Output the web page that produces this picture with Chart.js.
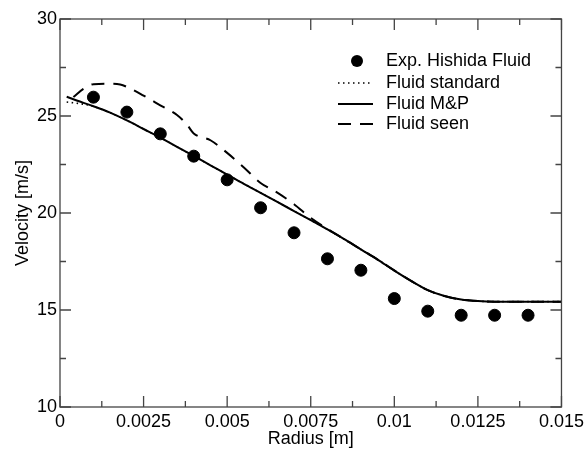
<!DOCTYPE html>
<html>
<head>
<meta charset="utf-8">
<script src="https://cdn.jsdelivr.net/npm/chart.js@4"></script>
<style>
  body { margin: 0; background: #fff; }
</style>
</head>
<body>
<canvas id="chart" width="588" height="450"></canvas>
<script>
// experimental points
var expX = [0.001, 0.002, 0.003, 0.004, 0.005, 0.006, 0.007, 0.008, 0.009, 0.010, 0.011, 0.012, 0.013, 0.014];
var expY = [25.97, 25.2, 24.08, 22.93, 21.71, 20.27, 18.98, 17.64, 17.05, 15.59, 14.94, 14.73, 14.73, 14.73];

// Fluid M&P
var mpX = [0.0002, 0.0005, 0.001, 0.0015, 0.002, 0.0025, 0.003, 0.0035, 0.004, 0.0045, 0.005, 0.0055, 0.006, 0.0065, 0.007, 0.0075, 0.008, 0.0085, 0.009, 0.0095, 0.010, 0.0105, 0.011, 0.0115, 0.012, 0.0125, 0.013, 0.015];
var mpY = [25.99, 25.8, 25.5, 25.17, 24.77, 24.33, 23.89, 23.41, 22.94, 22.46, 21.98, 21.5, 21.04, 20.57, 20.1, 19.63, 19.15, 18.65, 18.12, 17.6, 17.03, 16.5, 16.02, 15.72, 15.54, 15.46, 15.43, 15.43];

// Fluid standard (only differs close to the axis)
var stdX = [0.0002, 0.0005, 0.0008, 0.001, 0.0015, 0.002, 0.0025, 0.003, 0.0035, 0.004, 0.0045, 0.005, 0.0055, 0.006, 0.0065, 0.007, 0.0075, 0.008, 0.0085, 0.009, 0.0095, 0.010, 0.0105, 0.011, 0.0115, 0.012, 0.0125, 0.013, 0.015];
var stdY = [25.72, 25.66, 25.58, 25.5, 25.17, 24.77, 24.33, 23.89, 23.41, 22.94, 22.46, 21.98, 21.5, 21.04, 20.57, 20.1, 19.63, 19.15, 18.65, 18.12, 17.6, 17.03, 16.5, 16.02, 15.72, 15.54, 15.46, 15.43, 15.43];

// Fluid seen
var seenX = [0.0004, 0.0007, 0.001, 0.0015, 0.0018, 0.002, 0.0025, 0.003, 0.0035, 0.0038, 0.004, 0.0045, 0.005, 0.0055, 0.006, 0.0065, 0.007, 0.0075, 0.008, 0.0085, 0.009, 0.0095, 0.010, 0.0105, 0.011, 0.0115, 0.012, 0.0125, 0.013, 0.015];
var seenY = [25.98, 26.4, 26.64, 26.66, 26.62, 26.5, 26.05, 25.55, 25.05, 24.55, 24.1, 23.75, 23.1, 22.35, 21.55, 21.05, 20.45, 19.75, 19.18, 18.66, 18.13, 17.6, 17.04, 16.5, 16.02, 15.72, 15.54, 15.46, 15.43, 15.43];

var xTicks = [0, 0.0025, 0.005, 0.0075, 0.01, 0.0125, 0.015];
var xTickLabels = ['0', '0.0025', '0.005', '0.0075', '0.01', '0.0125', '0.015'];
var yTicks = [10, 15, 20, 25, 30];
var yTickLabels = ['10', '15', '20', '25', '30'];

var legendNames = ['Exp. Hishida Fluid', 'Fluid standard', 'Fluid M&P', 'Fluid seen'];

function pts(xs, ys) {
  return xs.map(function (x, i) { return {x: x, y: ys[i]}; });
}

var FONT = "'Liberation Sans', Arial, sans-serif";
var FRAME = '#444';

// inward ticks on all four sides + frame
var frameTicks = {
  id: 'frameTicks',
  afterDraw: function (chart) {
    var ctx = chart.ctx, a = chart.chartArea;
    var xs = chart.scales.x, ys = chart.scales.y;
    ctx.save();
    ctx.strokeStyle = FRAME;
    ctx.lineWidth = 1.3;
    ctx.strokeRect(a.left, a.top, a.right - a.left, a.bottom - a.top);
    ctx.beginPath();
    for (var i = 0; i < xTicks.length; i++) {
      var px = xs.getPixelForValue(xTicks[i]);
      ctx.moveTo(px, a.bottom); ctx.lineTo(px, a.bottom - 11);
      ctx.moveTo(px, a.top); ctx.lineTo(px, a.top + 11);
      if (i < xTicks.length - 1) {
        var mx = xs.getPixelForValue((xTicks[i] + xTicks[i + 1]) / 2);
        ctx.moveTo(mx, a.bottom); ctx.lineTo(mx, a.bottom - 6);
        ctx.moveTo(mx, a.top); ctx.lineTo(mx, a.top + 6);
      }
    }
    for (var j = 0; j < yTicks.length; j++) {
      var py = ys.getPixelForValue(yTicks[j]);
      ctx.moveTo(a.left, py); ctx.lineTo(a.left + 11, py);
      ctx.moveTo(a.right, py); ctx.lineTo(a.right - 11, py);
      if (j < yTicks.length - 1) {
        var my = ys.getPixelForValue((yTicks[j] + yTicks[j + 1]) / 2);
        ctx.moveTo(a.left, my); ctx.lineTo(a.left + 6, my);
        ctx.moveTo(a.right, my); ctx.lineTo(a.right - 6, my);
      }
    }
    ctx.stroke();

    // legend, top right inside the plot
    var lx = 338, tx = 386, ly = [61, 83, 104, 124];
    ctx.fillStyle = '#000';
    ctx.strokeStyle = '#000';
    ctx.beginPath();
    ctx.arc(357, ly[0], 6, 0, Math.PI * 2);
    ctx.fill();
    var dashes = [[1.5, 3.5], [], [13, 9]];
    for (var k = 0; k < 3; k++) {
      ctx.setLineDash(dashes[k]);
      ctx.lineWidth = k === 0 ? 1.6 : 2;
      ctx.beginPath();
      ctx.moveTo(lx, ly[k + 1]);
      ctx.lineTo(lx + 35, ly[k + 1]);
      ctx.stroke();
    }
    ctx.setLineDash([]);
    ctx.font = '18px ' + FONT;
    ctx.textBaseline = 'middle';
    ctx.textAlign = 'left';
    for (var n = 0; n < legendNames.length; n++) {
      ctx.fillText(legendNames[n], tx, ly[n]);
    }
    ctx.restore();
  }
};

new Chart('chart', {
  type: 'scatter',
  data: {
    datasets: [{
      label: legendNames[0],
      data: pts(expX, expY),
      backgroundColor: '#000',
      borderColor: '#000',
      pointRadius: 6,
      pointHoverRadius: 6,
      order: 0
    }, {
      label: legendNames[1],
      data: pts(stdX, stdY),
      showLine: true,
      pointRadius: 0,
      borderColor: '#000',
      borderWidth: 1.6,
      borderDash: [1.5, 3.5],
      cubicInterpolationMode: 'monotone',
      order: 3
    }, {
      label: legendNames[2],
      data: pts(mpX, mpY),
      showLine: true,
      pointRadius: 0,
      borderColor: '#000',
      borderWidth: 2,
      cubicInterpolationMode: 'monotone',
      order: 2
    }, {
      label: legendNames[3],
      data: pts(seenX, seenY),
      showLine: true,
      pointRadius: 0,
      borderColor: '#000',
      borderWidth: 2,
      borderDash: [13, 9],
      cubicInterpolationMode: 'monotone',
      order: 1
    }]
  },
  options: {
    responsive: false,
    animation: false,
    layout: { padding: { top: 19, right: 24, left: 0, bottom: 0 } },
    plugins: {
      legend: { display: false },
      tooltip: { enabled: false }
    },
    scales: {
      x: {
        type: 'linear',
        min: 0,
        max: 0.015,
        afterBuildTicks: function (s) { s.ticks = xTicks.map(function (v) { return {value: v}; }); },
        afterFit: function (s) { s.height = 43; },
        grid: { display: false, drawTicks: false },
        border: { display: false },
        ticks: {
          color: '#000',
          padding: 4,
          maxRotation: 0,
          font: { family: FONT, size: 18 },
          callback: function (v, i) { return xTickLabels[i]; }
        },
        title: {
          display: true,
          text: 'Radius [m]',
          color: '#000',
          padding: 0,
          font: { family: FONT, size: 18 }
        }
      },
      y: {
        min: 10,
        max: 30,
        afterBuildTicks: function (s) { s.ticks = yTicks.map(function (v) { return {value: v}; }); },
        afterFit: function (s) { s.width = 60; },
        grid: { display: false, drawTicks: false },
        border: { display: false },
        ticks: {
          color: '#000',
          padding: 3,
          font: { family: FONT, size: 18 },
          callback: function (v, i) { return yTickLabels[i]; }
        },
        title: {
          display: true,
          text: 'Velocity [m/s]',
          color: '#000',
          padding: { top: 12, bottom: 0 },
          font: { family: FONT, size: 18 }
        }
      }
    }
  },
  plugins: [frameTicks]
});
</script>
</body>
</html>
